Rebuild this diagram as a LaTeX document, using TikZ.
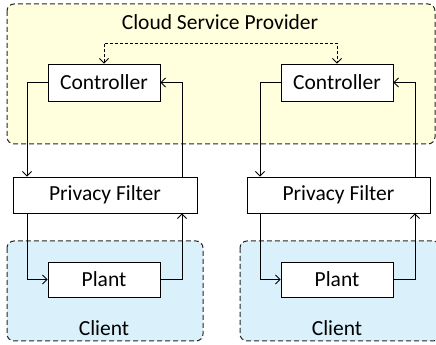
\documentclass[tikz,border=0pt]{standalone}
\usepackage{fontspec}
\setmainfont{Carlito}
\usetikzlibrary{arrows.meta}
\definecolor{cloudfill}{HTML}{FFFFDD}
\definecolor{clientfill}{HTML}{DAF1FC}
\tikzset{
  region/.style={draw=black!85, line width=1pt, rounded corners=7pt, dash pattern=on 5pt off 3pt},
  blk/.style={draw, fill=white, line width=0.9pt, inner sep=0pt, font=\fontsize{21.5}{24}\selectfont},
  lbl/.style={font=\fontsize{21.5}{24}\selectfont, inner sep=0pt},
  conn/.style={line width=0.9pt, -{Straight Barb[length=4.5pt,width=9pt]}},
}
\begin{document}
\begin{tikzpicture}[x=1pt,y=1pt]
\useasboundingbox (0,0) rectangle (436,345);
% regions
\draw[region, fill=cloudfill] (7,345-4) rectangle (435,345-144);
\draw[region, fill=clientfill] (7,345-241) rectangle (203,345-341);
\draw[region, fill=clientfill] (240,345-241) rectangle (440,345-341);
\node[lbl] (cloud) at (220,345-22) {Cloud Service Provider};
\node[lbl] (client1) at (104,345-328) {Client};
\node[lbl] (client2) at (337,345-328) {Client};
% blocks
\node[blk, minimum width=112pt, minimum height=37pt] (c1) at (104,345-82.5) {Controller};
\node[blk, minimum width=112pt, minimum height=37pt] (c2) at (337,345-82.5) {Controller};
\node[blk, minimum width=184pt, minimum height=36pt] (f1) at (105,345-195) {Privacy Filter};
\node[blk, minimum width=183pt, minimum height=36pt] (f2) at (338.5,345-195) {Privacy Filter};
\node[blk, minimum width=112pt, minimum height=35pt] (p1) at (104,345-279.5) {Plant};
\node[blk, minimum width=112pt, minimum height=35pt] (p2) at (337,345-279.5) {Plant};
% dashed link
\coordinate (top) at (0,345-43);
\draw[conn, {Straight Barb[length=4.5pt,width=9pt]}-{Straight Barb[length=4.5pt,width=9pt]}, dash pattern=on 3pt off 2pt] (c1.north) |- (top -| c1.north) -- (top -| c2.north) -- (c2.north);
% left loop
\draw[conn] (c1.west) -| ([xshift=-78pt]f1.north);
\draw[conn] ([xshift=77pt]f1.north) |- (c1.east);
\draw[conn] ([xshift=-78pt]f1.south) |- (p1.west);
\draw[conn] (p1.east) -| ([xshift=77pt]f1.south);
% right loop
\draw[conn] (c2.west) -| ([xshift=-78.5pt]f2.north);
\draw[conn] ([xshift=76.5pt]f2.north) |- (c2.east);
\draw[conn] ([xshift=-78.5pt]f2.south) |- (p2.west);
\draw[conn] (p2.east) -| ([xshift=76.5pt]f2.south);
\end{tikzpicture}
\end{document}
